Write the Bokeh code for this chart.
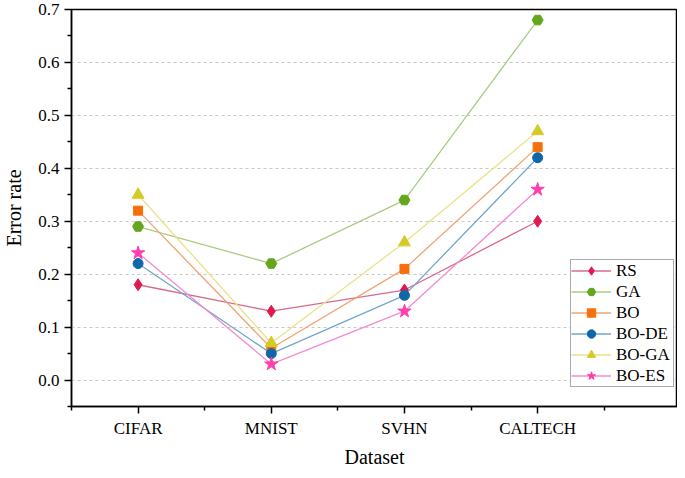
from bokeh.plotting import figure
from bokeh.models import Range1d, FixedTicker, PrintfTickFormatter, Legend
from bokeh.embed import file_html
from bokeh.resources import INLINE

datasets = ["CIFAR", "MNIST", "SVHN", "CALTECH"]
rs = [0.18, 0.13, 0.17, 0.30]
ga = [0.29, 0.22, 0.34, 0.68]
bo = [0.32, 0.06, 0.21, 0.44]
bo_de = [0.22, 0.05, 0.16, 0.42]
bo_ga = [0.35, 0.07, 0.26, 0.47]
bo_es = [0.24, 0.03, 0.13, 0.36]
y_ticks = [0.0, 0.1, 0.2, 0.3, 0.4, 0.5, 0.6, 0.7]

FONT = "Liberation Serif"

p = figure(width=677, height=470, output_backend="svg", toolbar_location=None,
           x_range=Range1d(-0.5, 4.05), y_range=Range1d(-0.05, 0.7),
           min_border_left=61, min_border_right=0, min_border_top=9, min_border_bottom=55)

xs = list(range(len(datasets)))

series = [
    ("RS", rs, "#E01A4F", "#D86A8C", "diamond", 12),
    ("GA", ga, "#66A61E", "#AACC82", "hex", 11),
    ("BO", bo, "#F5700A", "#F0A474", "square", 9),
    ("BO-DE", bo_de, "#0F66AA", "#72A6CE", "circle", 10),
    ("BO-GA", bo_ga, "#D6CB26", "#E8E288", "triangle", 12),
    ("BO-ES", bo_es, "#FF3FAE", "#F28BD0", "star", 14),
]

items = []
for name, vals, mc, lc, mk, sz in series:
    l = p.line(xs, vals, line_color=lc, line_width=1.3)
    s = p.scatter(xs, vals, marker=mk, size=sz, fill_color=mc, line_color=mc)
    items.append((name, [l, s]))

legend = Legend(items=items, location=(499, 19))
legend.label_text_font = FONT
legend.label_text_font_size = "17px"
legend.label_text_color = "black"
legend.glyph_width = 40
legend.glyph_height = 21
legend.label_height = 18
legend.label_width = 57
legend.label_standoff = 5
legend.spacing = 0
legend.padding = 0
legend.margin = 0
legend.border_line_color = "#555555"
legend.border_line_width = 1
legend.background_fill_color = "white"
legend.background_fill_alpha = 1
p.add_layout(legend, "center")

# axes
p.xaxis.ticker = FixedTicker(ticks=xs, minor_ticks=[-0.5, 0.5, 1.5, 2.5, 3.5])
p.xaxis.major_label_overrides = {i: d for i, d in enumerate(datasets)}
p.yaxis.ticker = FixedTicker(ticks=y_ticks, minor_ticks=[-0.05, 0.05, 0.15, 0.25, 0.35, 0.45, 0.55, 0.65])
p.yaxis.formatter = PrintfTickFormatter(format="%.1f")

for ax in (p.xaxis, p.yaxis):
    ax.axis_line_width = 1.5
    ax.axis_line_color = "black"
    ax.major_tick_line_width = 1.5
    ax.minor_tick_line_width = 1.5
    ax.major_tick_in = 0
    ax.major_tick_out = 7
    ax.minor_tick_in = 0
    ax.minor_tick_out = 4
    ax.major_label_text_font = FONT
    ax.major_label_text_font_size = "17px"
    ax.major_label_text_color = "black"
    ax.axis_label_text_font = FONT
    ax.axis_label_text_font_size = "20px"
    ax.axis_label_text_font_style = "normal"
    ax.axis_label_text_color = "black"

p.xaxis.axis_label = "Dataset"
p.yaxis.axis_label = "Error rate"
p.xaxis.major_label_standoff = 5
p.xaxis.axis_label_standoff = 5
p.yaxis.major_label_standoff = 5
p.yaxis.axis_label_standoff = 10

p.xgrid.grid_line_color = None
p.ygrid.grid_line_color = "#C8C8C8"
p.ygrid.grid_line_dash = "3 3"
p.ygrid.grid_line_width = 1

p.outline_line_color = "black"
p.outline_line_width = 1.5
p.outline_line_alpha = 1
p.background_fill_color = "white"
p.border_fill_color = "white"

open("out.html", "w").write(file_html(p, INLINE))
